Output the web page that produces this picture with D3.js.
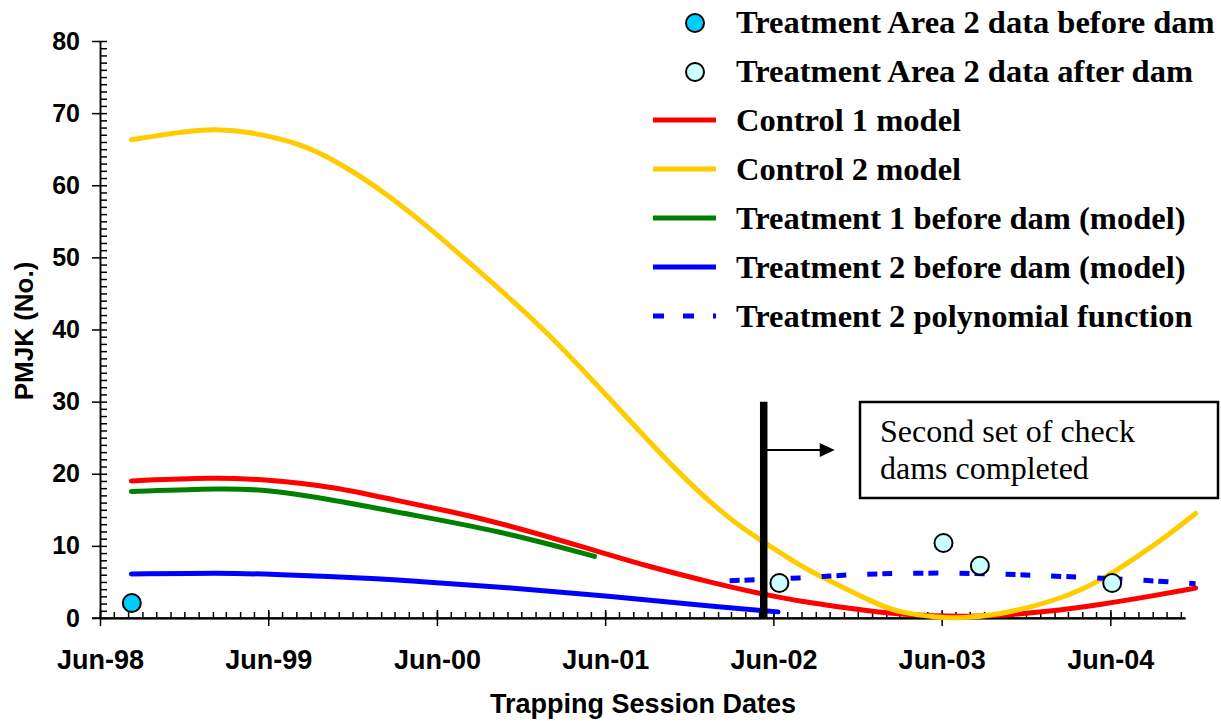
<!DOCTYPE html>
<html>
<head>
<meta charset="utf-8">
<script src="https://cdn.jsdelivr.net/npm/d3@7"></script>
<style>
  body { margin: 0; background: #fff; }
  svg { display: block; }
</style>
</head>
<body>
<div id="chart"></div>
<script>
// Size
let w = 1221;
let h = 721;

let parse = d3.timeParse("%Y-%m-%d");

// Control 1 model
let control1Dates = ["1998-08-08", "1999-02-02", "1999-05-27", "1999-10-19", "2000-03-12", "2000-06-29",
  "2000-10-15", "2001-04-07", "2001-08-29", "2002-01-22", "2002-05-09", "2002-07-28", "2002-11-07",
  "2003-03-01", "2003-08-29", "2004-01-22", "2004-05-09", "2004-08-26", "2004-12-03"];
let control1Values = [19.0, 19.5, 19.2, 18.25, 16.2, 14.8, 13.2, 10.0, 7.2, 4.85, 3.3, 2.3, 1.4,
  0.4, 0.1, 0.9, 1.85, 3.0, 4.15];

// Control 2 model
let control2Dates = ["1998-08-08", "1999-01-18", "1999-04-14", "1999-08-08", "1999-11-03", "2000-02-05",
  "2000-05-16", "2000-08-04", "2000-10-15", "2001-02-06", "2001-06-18", "2001-11-10", "2002-03-05",
  "2002-05-02", "2002-07-28", "2002-09-10", "2003-01-18", "2003-03-01", "2003-05-27", "2003-07-16",
  "2003-10-05", "2003-12-16", "2004-02-28", "2004-05-09", "2004-07-20", "2004-10-01", "2004-12-03"];
let control2Values = [66.3, 68.0, 67.5, 65.9, 63.1, 59.2, 54.1, 49.6, 45.6, 39.0, 29.9, 19.8, 13.3,
  10.9, 7.3, 5.8, 1.7, 0.8, 0.0, 0.0, 0.5, 1.6, 3.0, 5.1, 8.1, 11.3, 14.5];

// Treatment 1 before dam (model)
let treat1Dates = ["1998-08-08", "1999-02-24", "1999-05-27", "1999-10-19", "2000-03-12", "2000-10-15", "2001-05-09"];
let treat1Values = [17.55, 18.0, 17.8, 16.4, 14.6, 12.1, 8.55];

// Treatment 2 before dam (model)
let treat2Dates = ["1998-08-08", "1999-02-24", "1999-05-27", "1999-12-31", "2000-05-23", "2000-10-15",
  "2001-06-18", "2002-01-22", "2002-06-11"];
let treat2Values = [6.1, 6.24, 6.1, 5.55, 4.94, 4.3, 3.0, 1.6, 0.85];

// Treatment 2 polynomial function
let polyDates = ["2002-02-26", "2002-08-19", "2002-09-23", "2002-12-05", "2003-03-01", "2003-06-18",
  "2003-10-05", "2003-12-31", "2004-04-18", "2004-08-26", "2004-12-03"];
let polyValues = [5.17, 5.6, 5.8, 6.05, 6.2, 6.25, 6.1, 5.9, 5.6, 5.2, 4.75];

// Treatment Area 2 data
let beforeDates = ["1998-08-09"];
let beforeValues = [2.08];
let afterDates = ["2002-06-14", "2003-06-05", "2003-08-23", "2004-06-05"];
let afterValues = [4.85, 10.4, 7.25, 4.85];

// Dam completion marker
let damDate = "2002-05-11";
let damTop = 30;
let arrowValue = 23.3;

let yTicks = [0, 10, 20, 30, 40, 50, 60, 70, 80];

let legendItems = [
  { label: "Treatment Area 2 data before dam", type: "dot", fill: "#00CCFF" },
  { label: "Treatment Area 2 data after dam", type: "dot", fill: "#CCFFFF" },
  { label: "Control 1 model", type: "line", color: "#FF0000" },
  { label: "Control 2 model", type: "line", color: "#FFCC00" },
  { label: "Treatment 1 before dam (model)", type: "line", color: "#008000" },
  { label: "Treatment 2 before dam (model)", type: "line", color: "#0000FF" },
  { label: "Treatment 2 polynomial function", type: "dash", color: "#0000FF" },
];

let toPoints = (dates, values) => dates.map((d, i) => ({ date: parse(d), value: values[i] }));

let xScale = d3
  .scaleTime()
  .domain([parse("1998-06-01"), parse("2004-11-10")])
  .range([100, 1185]);

let yScale = d3.scaleLinear().domain([0, 80]).range([618, 41]);

let svg = d3.select("#chart").append("svg").attr("width", w).attr("height", h);

let sans = "Arial, 'Liberation Sans', sans-serif";
let serif = "'Times New Roman', 'Liberation Serif', serif";

// Y axis: labels + left part of major ticks
let yAxis = svg
  .append("g")
  .attr("transform", "translate(100,0)")
  .call(d3.axisLeft(yScale).tickValues(yTicks).tickSize(8).tickSizeOuter(0).tickPadding(12));
yAxis.selectAll("text").attr("font-family", sans).attr("font-weight", "bold").attr("font-size", "25px").attr("fill", "#000");

// Y minor ticks (every unit) on the inside
svg
  .append("g")
  .attr("transform", "translate(100,0)")
  .call(d3.axisRight(yScale).tickValues(d3.range(0, 81, 1)).tickSize(7).tickSizeOuter(0).tickFormat(""));

// X axis: June labels, major ticks below
let months = d3.timeMonth.range(parse("1998-06-01"), parse("2004-11-10"));
let junes = months.filter((d) => d.getMonth() === 5);

let xAxis = svg
  .append("g")
  .attr("transform", "translate(0,618)")
  .call(d3.axisBottom(xScale).tickValues(junes).tickSize(8).tickSizeOuter(0).tickPadding(24).tickFormat(d3.timeFormat("%b-%y")));
xAxis.selectAll("text").attr("font-family", sans).attr("font-weight", "bold").attr("font-size", "27px").attr("fill", "#000");

// X ticks above the axis
svg
  .append("g")
  .attr("transform", "translate(0,618)")
  .call(d3.axisTop(xScale).tickValues(months).tickSize(6).tickSizeOuter(0).tickFormat(""));
svg
  .append("g")
  .attr("transform", "translate(0,618)")
  .call(d3.axisTop(xScale).tickValues(junes).tickSize(8).tickSizeOuter(0).tickFormat(""));

// extend x axis line to the left of the y axis
svg.append("line").attr("x1", 92).attr("x2", 1185).attr("y1", 618).attr("y2", 618).attr("stroke", "#000").attr("stroke-width", 1.5);

svg.selectAll(".domain, .tick line").attr("stroke", "#000").attr("stroke-width", 1.5);

// Axis titles
svg
  .append("text")
  .text("PMJK (No.)")
  .attr("transform", "translate(33,331) rotate(-90)")
  .attr("text-anchor", "middle")
  .attr("font-family", sans)
  .attr("font-weight", "bold")
  .attr("font-size", "26px");

svg
  .append("text")
  .text("Trapping Session Dates")
  .attr("x", 643)
  .attr("y", 713)
  .attr("text-anchor", "middle")
  .attr("font-family", sans)
  .attr("font-weight", "bold")
  .attr("font-size", "27px");

// Lines
let line = d3
  .line()
  .x((d) => xScale(d.date))
  .y((d) => yScale(d.value))
  .curve(d3.curveBasis);

let series = [
  { dates: treat2Dates, values: treat2Values, color: "#0000FF" },
  { dates: treat1Dates, values: treat1Values, color: "#008000" },
  { dates: control1Dates, values: control1Values, color: "#FF0000" },
  { dates: control2Dates, values: control2Values, color: "#FFCC00" },
];

svg
  .selectAll("path.model")
  .data(series)
  .enter()
  .append("path")
  .attr("class", "model")
  .attr("d", (s) => line(toPoints(s.dates, s.values)))
  .attr("fill", "none")
  .attr("stroke", (s) => s.color)
  .attr("stroke-width", 5)
  .attr("stroke-linecap", "round");

svg
  .append("path")
  .attr("d", line(toPoints(polyDates, polyValues)))
  .attr("fill", "none")
  .attr("stroke", "#0000FF")
  .attr("stroke-width", 5)
  .attr("stroke-dasharray", "10,5,10,21");

// Dam marker
let damX = xScale(parse(damDate));
svg
  .append("line")
  .attr("x1", damX)
  .attr("x2", damX)
  .attr("y1", yScale(damTop))
  .attr("y2", yScale(0))
  .attr("stroke", "#000")
  .attr("stroke-width", 7.5);

let arrowY = yScale(arrowValue);
svg
  .append("line")
  .attr("x1", damX + 3)
  .attr("x2", damX + 58)
  .attr("y1", arrowY)
  .attr("y2", arrowY)
  .attr("stroke", "#000")
  .attr("stroke-width", 2);
svg
  .append("path")
  .attr("d", `M${damX + 71},${arrowY} L${damX + 56},${arrowY - 7} L${damX + 56},${arrowY + 7} Z`)
  .attr("fill", "#000");

// Points
svg
  .selectAll("circle.before")
  .data(toPoints(beforeDates, beforeValues))
  .enter()
  .append("circle")
  .attr("class", "before")
  .attr("cx", (d) => xScale(d.date))
  .attr("cy", (d) => yScale(d.value))
  .attr("r", 9)
  .attr("fill", "#00CCFF")
  .attr("stroke", "#000")
  .attr("stroke-width", 2);

svg
  .selectAll("circle.after")
  .data(toPoints(afterDates, afterValues))
  .enter()
  .append("circle")
  .attr("class", "after")
  .attr("cx", (d) => xScale(d.date))
  .attr("cy", (d) => yScale(d.value))
  .attr("r", 9)
  .attr("fill", "#CCFFFF")
  .attr("stroke", "#000")
  .attr("stroke-width", 2);

// Annotation box
svg
  .append("rect")
  .attr("x", 860)
  .attr("y", 402)
  .attr("width", 358)
  .attr("height", 96)
  .attr("fill", "#fff")
  .attr("stroke", "#000")
  .attr("stroke-width", 2.5);

svg
  .append("text")
  .attr("font-family", serif)
  .attr("font-size", "32px")
  .selectAll("tspan")
  .data(["Second set of check", "dams completed"])
  .enter()
  .append("tspan")
  .attr("x", 880)
  .attr("y", (d, i) => 442 + i * 36.5)
  .text((d) => d);

// Legend
let legend = svg
  .selectAll("g.legend")
  .data(legendItems)
  .enter()
  .append("g")
  .attr("class", "legend")
  .attr("transform", (d, i) => `translate(0,${33 + i * 49})`);

legend
  .filter((d) => d.type === "dot")
  .append("circle")
  .attr("cx", 695)
  .attr("cy", -10)
  .attr("r", 9)
  .attr("fill", (d) => d.fill)
  .attr("stroke", "#000")
  .attr("stroke-width", 2);

legend
  .filter((d) => d.type !== "dot")
  .append("line")
  .attr("x1", 653)
  .attr("x2", 716)
  .attr("y1", -11)
  .attr("y2", -11)
  .attr("stroke", (d) => d.color)
  .attr("stroke-width", 5)
  .attr("stroke-dasharray", (d) => (d.type === "dash" ? "11,19" : null));

legend
  .append("text")
  .text((d) => d.label)
  .attr("x", 736)
  .attr("y", 0)
  .attr("font-family", serif)
  .attr("font-weight", "bold")
  .attr("font-size", "32.5px");
</script>
</body>
</html>
